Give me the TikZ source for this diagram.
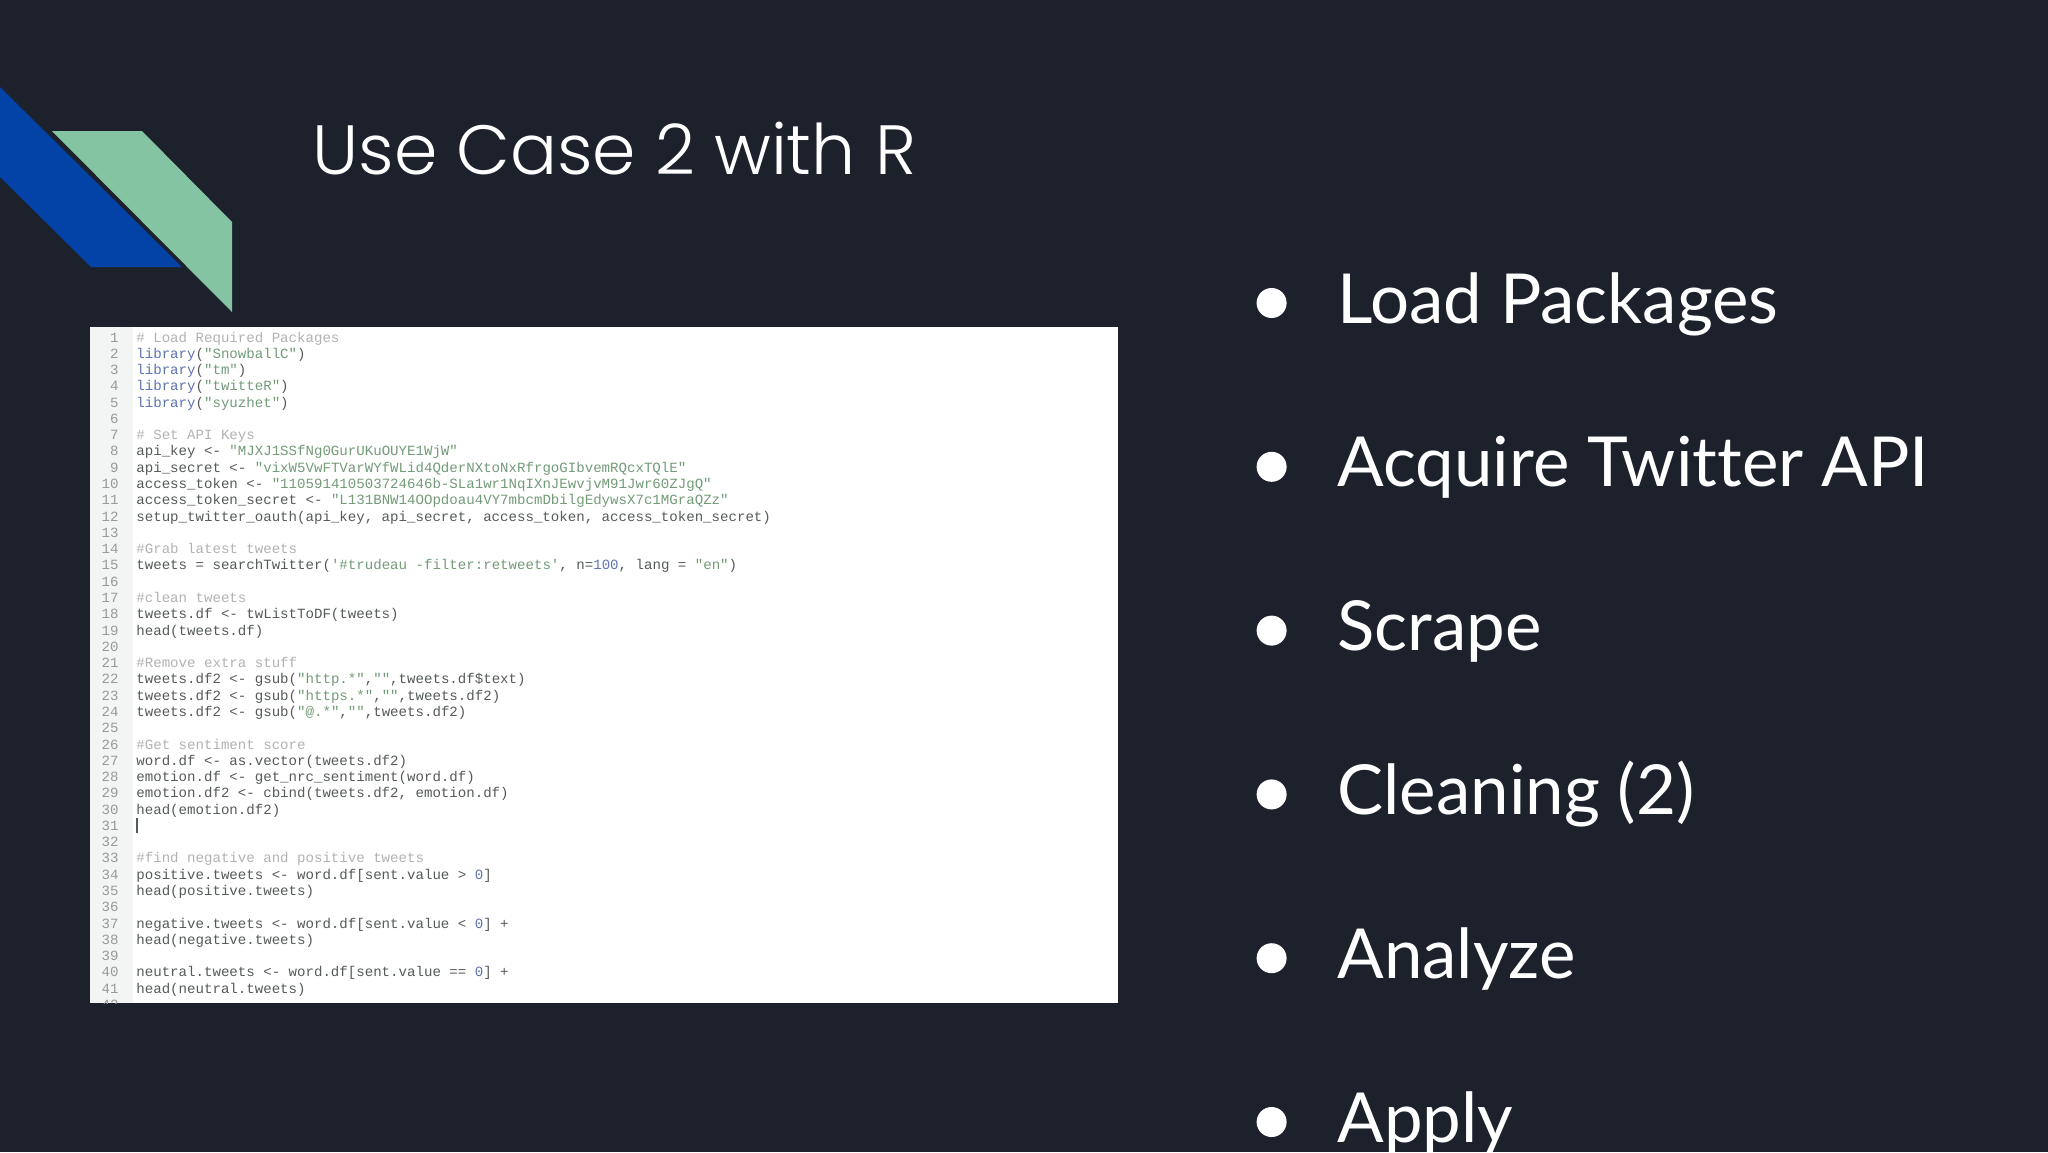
\documentclass[tikz,border=0pt]{standalone}
\usepackage{fontspec}
\setmainfont[Ligatures=NoCommon]{Lato}
\newfontfamily\titlefont{Poppins Light}
\setmonofont{Liberation Mono}
\usetikzlibrary{positioning, calc}
\definecolor{slidebg}{RGB}{29,33,44}
\definecolor{ribbonblue}{RGB}{3,66,167}
\definecolor{ribbongreen}{RGB}{133,196,163}
\definecolor{gutter}{RGB}{243,244,244}
\definecolor{codegray}{RGB}{85,90,90}
\definecolor{keyblue}{RGB}{95,115,175}
\definecolor{stringgreen}{RGB}{115,155,120}
\newcommand{\cmt}[1]{\textcolor{gray!60}{#1}}
\newcommand{\kwd}[1]{\textcolor{keyblue}{#1}}
\newcommand{\strg}[1]{\textcolor{stringgreen}{#1}}
\begin{document}
\begin{tikzpicture}[x=0.5pt, y=-0.5pt,
    bullet item/.style = {anchor=west, inner sep=0pt, text=white, font=\fontsize{34.5}{34.5}\selectfont, text height=28pt, text depth=8pt},
    bullet dot/.style = {circle, fill=white, minimum size=15pt, inner sep=0pt},
    line num/.style = {anchor=base east, inner sep=0pt, text=gray!80, font=\ttfamily\fontsize{7.05}{8}\selectfont},
    code line/.style = {anchor=base west, inner sep=0pt, text=codegray, font=\ttfamily\fontsize{7.05}{8}\selectfont}]
        \useasboundingbox (0,0) rectangle (2048,1152);
        \fill[slidebg] (0,0) rectangle (2048,1152);
        \fill[ribbonblue] (0,87) -- (182,267) -- (91,267) -- (0,177) -- cycle;
        \fill[ribbongreen] (52,131) -- (142,131) -- (232,222) -- (232,312) -- cycle;
        \node[anchor=base west, inner sep=0pt, text=white, font=\titlefont\fontsize{34.85}{35}\selectfont] (title) at (312,174) {Use Case 2 with R};
        % screenshot of the script
        \fill[white] (90,327) rectangle (1118,1003);
        \fill[gutter] (90,327) rectangle (133,1003);
        \begin{scope}
            \clip (90,327) rectangle (1118,1003);
            \foreach \n in {1,...,42}
                \node[line num] (num\n) at (119,{342+16.28*(\n-1)}) {\n};
        \end{scope}
        \foreach \n/\txt in {
            1/{\cmt{\# Load Required Packages}},
            2/{\kwd{library}(\strg{"SnowballC"})},
            3/{\kwd{library}(\strg{"tm"})},
            4/{\kwd{library}(\strg{"twitteR"})},
            5/{\kwd{library}(\strg{"syuzhet"})},
            7/{\cmt{\# Set API Keys}},
            8/{api\_key <- \strg{"MJXJ1SSfNg0GurUKuOUYE1WjW"}},
            9/{api\_secret <- \strg{"vixW5VwFTVarWYfWLid4QderNXtoNxRfrgoGIbvemRQcxTQlE"}},
            10/{access\_token <- \strg{"110591410503724646b-SLa1wr1NqIXnJEwvjvM91Jwr60ZJgQ"}},
            11/{access\_token\_secret <- \strg{"L131BNW14OOpdoau4VY7mbcmDbilgEdywsX7c1MGraQZz"}},
            12/{setup\_twitter\_oauth(api\_key, api\_secret, access\_token, access\_token\_secret)},
            14/{\cmt{\#Grab latest tweets}},
            15/{tweets = searchTwitter(\strg{'\#trudeau -filter:retweets'}, n=\kwd{100}, lang = \strg{"en"})},
            17/{\cmt{\#clean tweets}},
            18/{tweets.df <- twListToDF(tweets)},
            19/{head(tweets.df)},
            21/{\cmt{\#Remove extra stuff}},
            22/{tweets.df2 <- gsub(\strg{"http.*"},\strg{""},tweets.df\$text)},
            23/{tweets.df2 <- gsub(\strg{"https.*"},\strg{""},tweets.df2)},
            24/{tweets.df2 <- gsub(\strg{"@.*"},\strg{""},tweets.df2)},
            26/{\cmt{\#Get sentiment score}},
            27/{word.df <- as.vector(tweets.df2)},
            28/{emotion.df <- get\_nrc\_sentiment(word.df)},
            29/{emotion.df2 <- cbind(tweets.df2, emotion.df)},
            30/{head(emotion.df2)},
            33/{\cmt{\#find negative and positive tweets}},
            34/{positive.tweets <- word.df[sent.value > \kwd{0}]},
            35/{head(positive.tweets)},
            37/{negative.tweets <- word.df[sent.value < \kwd{0}] +},
            38/{head(negative.tweets)},
            40/{neutral.tweets <- word.df[sent.value == \kwd{0}] +},
            41/{head(neutral.tweets)}}
            \node[code line] (code\n) at (136,{342+16.28*(\n-1)}) {\txt};
        \draw[codegray, line width=1pt] (137,818) -- (137,833); % text cursor
        % bullet list
        \node[bullet item] (load) at (1337,303) {Load Packages};
        \node[bullet item, below=81.9pt of load.west, anchor=west] (acquire) {Acquire Twitter API};
        \node[bullet item, below=81.9pt of acquire.west, anchor=west] (scrape) {Scrape};
        \node[bullet item, below=81.9pt of scrape.west, anchor=west] (cleaning) {Cleaning (2)};
        \node[bullet item, below=81.9pt of cleaning.west, anchor=west] (analyze) {Analyze};
        \node[bullet item, below=81.9pt of analyze.west, anchor=west] (apply) {Apply};
        \foreach \it in {load, acquire, scrape, cleaning, analyze, apply}
            \node[bullet dot, left=25pt of \it.west] (dot\it) {};
\end{tikzpicture}
\end{document}
